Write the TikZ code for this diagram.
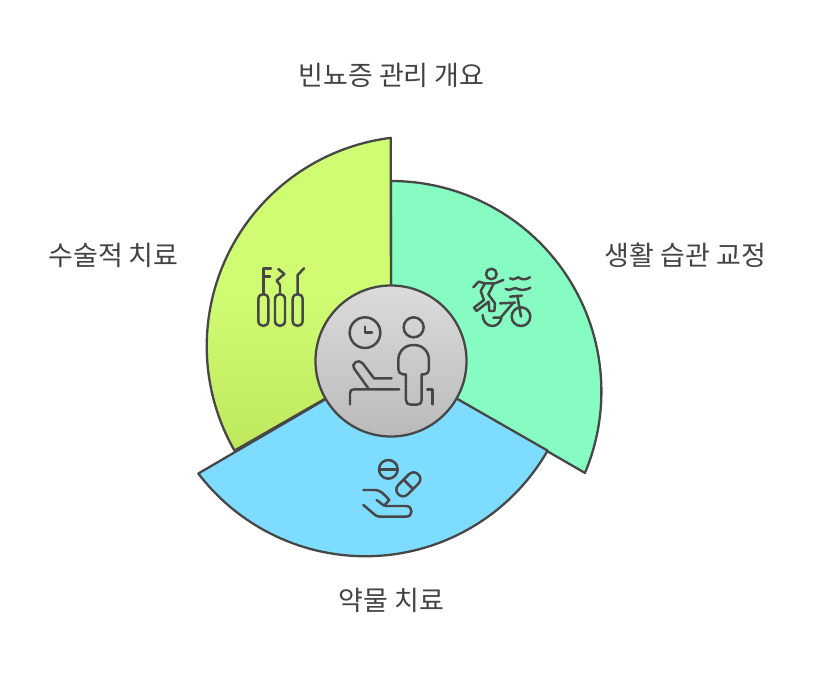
\documentclass[tikz,border=0pt]{standalone}
\usepackage{fontspec}
\newfontfamily\krfont{Noto Sans CJK KR}
\definecolor{ink}{HTML}{474747}
\definecolor{txt}{HTML}{434343}
\definecolor{grn}{HTML}{86FCC2}
\definecolor{blu}{HTML}{7DDCFF}
\definecolor{yelT}{HTML}{D0FC74}
\definecolor{yelB}{HTML}{BEE85C}
\tikzset{
  sector/.style={draw=ink,line width=2.3pt,line join=round},
  icon/.style={draw=ink,line width=2.5pt,line cap=round,line join=round},
  label/.style={text=txt,font=\krfont\fontsize{27bp}{30bp}\selectfont,inner sep=0pt,anchor=center}
}
\begin{document}
\begin{tikzpicture}[x=1bp,y=-1bp]
\useasboundingbox (0,0) rectangle (813,678);
\fill[white] (0,0) rectangle (813,678);
% sectors
\coordinate (hub) at (391,361);
\path[sector,fill=grn] (391,181) arc[start angle=-90,end angle=22.8,radius=210.4] -- (hub) -- cycle;
\path[sector,fill=blu] (547.6,450.6) arc[start angle=29.8,end angle=142.7,radius=210] -- (hub) -- cycle;
\path[sector,top color=yelT,bottom color=yelB,middle color=yelT] (234.5,450.6) arc[start angle=150.2,end angle=262.9,radius=210] -- (hub) -- cycle;
% hub
\path[sector,top color=black!14,bottom color=black!27] (391,361) circle[radius=75.5];
% hub icon
\begin{scope}[shift={(310,280)},scale=0.3333]
\draw[icon] (165,158) circle[radius=46];
\draw[icon] (165,140) -- (165,158) -- (186,158);
\draw[icon] (311,142) circle[radius=30];
\draw[icon] (288,283) -- (279,283) .. controls (270,283) and (265,276) .. (265,268) -- (265,241)
  .. controls (265,213) and (285,195) .. (311,195) .. controls (337,195) and (357,213) .. (357,241) -- (357,268)
  .. controls (357,276) and (352,283) .. (343,283) -- (335,283) -- (335,360)
  .. controls (335,369) and (330,374) .. (321,374) -- (302,374) .. controls (293,374) and (288,369) .. (288,360) -- cycle;
\draw[icon] (120,373) -- (120,340) .. controls (120,332) and (124,328) .. (132,328) -- (268,328);
\draw[icon] (245,295) -- (192,295) -- (158,250) .. controls (148,236) and (120,248) .. (134,268) -- (175,325);
\draw[icon] (352,328) -- (368,328) -- (368,373);
\end{scope}
% sport icon
\begin{scope}[shift={(460,255)},scale=0.3333]
\draw[icon] (94,57) circle[radius=16];
\draw[icon] (40,97) -- (56,80) -- (75,85) -- (105,85) -- (130,75);
\draw[icon] (75,85) -- (62,108) -- (72,135) -- (42,158) -- (50,168) -- (86,140) -- (88,168) -- (103,168) -- (105,145) -- (85,118) -- (100,88);
\draw[icon] (150,70) .. controls (155,74) and (162,74) .. (168,70) .. controls (174,66) and (176,66) .. (180,70) .. controls (186,74) and (200,74) .. (210,67);
\draw[icon] (137,102) .. controls (144,106) and (150,106) .. (157,102) .. controls (163,98) and (168,98) .. (174,102) .. controls (182,106) and (200,106) .. (211,98);
\draw[icon] (68,180) .. controls (68,198) and (80,213) .. (97,213) .. controls (110,213) and (120,204) .. (124,190);
\draw[icon] (183,185) circle[radius=28];
\draw[icon] (100,188) -- (122,188) -- (160,143);
\draw[icon] (172,122) -- (183,185);
\draw[icon] (150,125) -- (186,122);
\draw[icon] (120,145) -- (165,143);
\end{scope}
% instruments icon
\begin{scope}[shift={(245,255)},scale=0.3333]
\foreach \cx in {55,105,158}{
  \draw[icon] (\cx-15,133) .. controls (\cx-15,112) and (\cx+15,112) .. (\cx+15,133) -- (\cx+15,197)
    .. controls (\cx+15,218) and (\cx-15,218) .. (\cx-15,197) -- cycle;
}
\draw[icon] (55,118) -- (55,40) -- (78,40);
\draw[icon] (55,65) -- (75,65);
\draw[icon] (105,115) -- (105,90) -- (95,77) -- (118,57) -- (100,42);
\draw[icon] (158,118) -- (158,60) -- (177,40);
\end{scope}
% pills icon
\begin{scope}[shift={(350,450)},scale=0.3333]
\draw[icon] (115,58) circle[radius=28];
\draw[icon] (88,58) -- (143,58);
\draw[icon,rotate around={45:(175,103)}] (153,83) .. controls (126,83) and (126,123) .. (153,123) -- (197,123)
  .. controls (224,123) and (224,83) .. (197,83) -- cycle;
\draw[icon] (161,89) -- (189,117);
\draw[icon] (40,120) -- (75,120) .. controls (90,120) and (100,130) .. (118,150) -- (102,167) -- (80,150);
\draw[icon] (40,165) -- (72,192) .. controls (76,197) and (82,200) .. (90,200) -- (168,200)
  .. controls (190,200) and (190,168) .. (168,168) -- (105,168);
\end{scope}
% labels
\node[label] (title) at (391.5,75) {빈뇨증 관리 개요};
\node[label] (surgery) at (113.5,255) {수술적 치료};
\node[label] (habit) at (685.5,255) {생활 습관 교정};
\node[label] (drug) at (391.5,600) {약물 치료};
\end{tikzpicture}
\end{document}
